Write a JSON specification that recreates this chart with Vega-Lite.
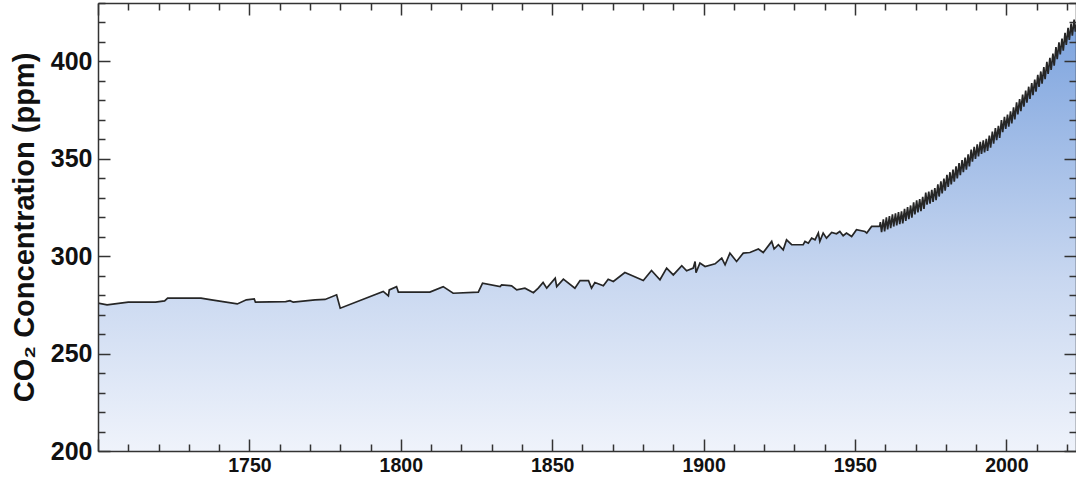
{
  "$schema": "https://vega.github.io/schema/vega-lite/v6.json",
  "width": 978,
  "height": 448,
  "autosize": {"type": "none"},
  "padding": {"left": 98, "top": 3, "right": 0, "bottom": 27},
  "background": "white",
  "config": {"view": {"stroke": null}, "font": "Liberation Sans"},
  "data": {"values": [
    {"year":1700,"ppm":275.9},{"year":1703,"ppm":275.0},{"year":1710,"ppm":276.4},{"year":1719,"ppm":276.4},{"year":1722,"ppm":277.1},{"year":1723,"ppm":278.5},{"year":1734,"ppm":278.5},{"year":1737.5,"ppm":277.6},{"year":1746,"ppm":275.5},{"year":1749,"ppm":277.6},{"year":1751.6,"ppm":278.1},{"year":1752,"ppm":276.4},{"year":1762,"ppm":276.7},{"year":1763.4,"ppm":277.2},{"year":1764.5,"ppm":276.4},{"year":1771.7,"ppm":277.6},{"year":1775,"ppm":277.8},{"year":1778.8,"ppm":280.2},{"year":1780,"ppm":273.3},{"year":1794.2,"ppm":281.9},{"year":1795.9,"ppm":279.6},{"year":1796.2,"ppm":282.7},{"year":1798.6,"ppm":284.4},{"year":1799.2,"ppm":281.6},{"year":1809.6,"ppm":281.6},{"year":1814,"ppm":284.4},{"year":1817.3,"ppm":281.0},{"year":1825.6,"ppm":281.6},{"year":1827,"ppm":286.2},{"year":1832.8,"ppm":284.4},{"year":1833.3,"ppm":285.3},{"year":1836.6,"ppm":284.8},{"year":1838.3,"ppm":282.7},{"year":1841,"ppm":283.6},{"year":1843.8,"ppm":281.3},{"year":1845.4,"ppm":283.6},{"year":1847,"ppm":286.5},{"year":1848.2,"ppm":283.6},{"year":1851,"ppm":288.7},{"year":1851.5,"ppm":284.4},{"year":1853.7,"ppm":288.2},{"year":1857.5,"ppm":283.6},{"year":1859.2,"ppm":287.5},{"year":1862,"ppm":287.5},{"year":1863,"ppm":283.6},{"year":1864.1,"ppm":286.5},{"year":1866.9,"ppm":284.8},{"year":1868.5,"ppm":288.2},{"year":1870.2,"ppm":287.0},{"year":1874,"ppm":291.6},{"year":1880.1,"ppm":287.5},{"year":1882.8,"ppm":292.7},{"year":1885.6,"ppm":287.9},{"year":1887.8,"ppm":293.9},{"year":1890,"ppm":290.4},{"year":1892.8,"ppm":295.1},{"year":1894.4,"ppm":292.5},{"year":1896.6,"ppm":293.9},{"year":1897.2,"ppm":297.3},{"year":1897.5,"ppm":291.6},{"year":1898.8,"ppm":296.5},{"year":1900.5,"ppm":294.7},{"year":1903.8,"ppm":296.1},{"year":1906,"ppm":299.0},{"year":1907.1,"ppm":295.6},{"year":1908.7,"ppm":301.6},{"year":1910.9,"ppm":297.3},{"year":1913.1,"ppm":301.6},{"year":1915.3,"ppm":301.9},{"year":1918.1,"ppm":303.7},{"year":1919.7,"ppm":301.9},{"year":1922.5,"ppm":307.6},{"year":1923.3,"ppm":303.7},{"year":1924.7,"ppm":305.9},{"year":1926.3,"ppm":303.3},{"year":1927.4,"ppm":308.4},{"year":1929.1,"ppm":305.9},{"year":1932.9,"ppm":305.9},{"year":1933.5,"ppm":307.6},{"year":1934.6,"ppm":306.7},{"year":1935.7,"ppm":309.3},{"year":1936.8,"ppm":308.4},{"year":1937.9,"ppm":311.9},{"year":1938.4,"ppm":307.6},{"year":1939.5,"ppm":311.9},{"year":1940.6,"ppm":309.3},{"year":1942.3,"ppm":312.2},{"year":1943.9,"ppm":311.5},{"year":1945,"ppm":312.7},{"year":1946.1,"ppm":310.5},{"year":1947.2,"ppm":311.9},{"year":1948.9,"ppm":310.1},{"year":1950.5,"ppm":313.6},{"year":1953.3,"ppm":312.7},{"year":1953.9,"ppm":311.9},{"year":1955.5,"ppm":315.3},{"year":1958.0,"ppm":315.3},
    {"year":1958.2,"ppm":315.7},{"year":1958.38,"ppm":317.5},{"year":1958.79,"ppm":312.4},
    {"year":1959.38,"ppm":318.98},{"year":1959.79,"ppm":312.78},
    {"year":1960.38,"ppm":319.91},{"year":1960.79,"ppm":313.71},
    {"year":1961.38,"ppm":320.64},{"year":1961.79,"ppm":314.44},
    {"year":1962.38,"ppm":321.45},{"year":1962.79,"ppm":315.25},
    {"year":1963.38,"ppm":321.99},{"year":1963.79,"ppm":315.79},
    {"year":1964.38,"ppm":322.62},{"year":1964.79,"ppm":316.42},
    {"year":1965.38,"ppm":323.04},{"year":1965.79,"ppm":316.84},
    {"year":1966.38,"ppm":324.37},{"year":1966.79,"ppm":318.17},
    {"year":1967.38,"ppm":325.18},{"year":1967.79,"ppm":318.98},
    {"year":1968.38,"ppm":326.05},{"year":1968.79,"ppm":319.85},
    {"year":1969.38,"ppm":327.62},{"year":1969.79,"ppm":321.42},
    {"year":1970.38,"ppm":328.68},{"year":1970.79,"ppm":322.48},
    {"year":1971.38,"ppm":329.32},{"year":1971.79,"ppm":323.12},
    {"year":1972.38,"ppm":330.46},{"year":1972.79,"ppm":324.26},
    {"year":1973.38,"ppm":332.68},{"year":1973.79,"ppm":326.48},
    {"year":1974.38,"ppm":333.19},{"year":1974.79,"ppm":326.99},
    {"year":1975.38,"ppm":334.13},{"year":1975.79,"ppm":327.93},
    {"year":1976.38,"ppm":335.03},{"year":1976.79,"ppm":328.83},
    {"year":1977.38,"ppm":336.84},{"year":1977.79,"ppm":330.64},
    {"year":1978.38,"ppm":338.41},{"year":1978.79,"ppm":332.21},
    {"year":1979.38,"ppm":339.84},{"year":1979.79,"ppm":333.64},
    {"year":1980.38,"ppm":341.76},{"year":1980.79,"ppm":335.56},
    {"year":1981.38,"ppm":343.12},{"year":1981.79,"ppm":336.92},
    {"year":1982.38,"ppm":344.48},{"year":1982.79,"ppm":338.28},
    {"year":1983.38,"ppm":346.15},{"year":1983.79,"ppm":339.95},
    {"year":1984.38,"ppm":347.87},{"year":1984.79,"ppm":341.67},
    {"year":1985.38,"ppm":349.35},{"year":1985.79,"ppm":343.15},
    {"year":1986.38,"ppm":350.61},{"year":1986.79,"ppm":344.41},
    {"year":1987.38,"ppm":352.31},{"year":1987.79,"ppm":346.11},
    {"year":1988.38,"ppm":354.69},{"year":1988.79,"ppm":348.49},
    {"year":1989.38,"ppm":356.20},{"year":1989.79,"ppm":350.00},
    {"year":1990.38,"ppm":357.45},{"year":1990.79,"ppm":351.25},
    {"year":1991.38,"ppm":358.70},{"year":1991.79,"ppm":352.50},
    {"year":1992.38,"ppm":359.54},{"year":1992.79,"ppm":353.34},
    {"year":1993.38,"ppm":360.21},{"year":1993.79,"ppm":354.01},
    {"year":1994.38,"ppm":361.96},{"year":1994.79,"ppm":355.76},
    {"year":1995.38,"ppm":363.97},{"year":1995.79,"ppm":357.77},
    {"year":1996.38,"ppm":365.74},{"year":1996.79,"ppm":359.54},
    {"year":1997.38,"ppm":366.88},{"year":1997.79,"ppm":360.68},
    {"year":1998.38,"ppm":369.84},{"year":1998.79,"ppm":363.64},
    {"year":1999.38,"ppm":371.54},{"year":1999.79,"ppm":365.34},
    {"year":2000.38,"ppm":372.71},{"year":2000.79,"ppm":366.51},
    {"year":2001.38,"ppm":374.32},{"year":2001.79,"ppm":368.12},
    {"year":2002.38,"ppm":376.45},{"year":2002.79,"ppm":370.25},
    {"year":2003.38,"ppm":378.98},{"year":2003.79,"ppm":372.78},
    {"year":2004.38,"ppm":380.70},{"year":2004.79,"ppm":374.50},
    {"year":2005.38,"ppm":382.98},{"year":2005.79,"ppm":376.78},
    {"year":2006.38,"ppm":385.09},{"year":2006.79,"ppm":378.89},
    {"year":2007.38,"ppm":387.02},{"year":2007.79,"ppm":380.82},
    {"year":2008.38,"ppm":388.83},{"year":2008.79,"ppm":382.63},
    {"year":2009.38,"ppm":390.64},{"year":2009.79,"ppm":384.44},
    {"year":2010.38,"ppm":393.10},{"year":2010.79,"ppm":386.90},
    {"year":2011.38,"ppm":394.85},{"year":2011.79,"ppm":388.65},
    {"year":2012.38,"ppm":397.06},{"year":2012.79,"ppm":390.86},
    {"year":2013.38,"ppm":399.74},{"year":2013.79,"ppm":393.54},
    {"year":2014.38,"ppm":401.81},{"year":2014.79,"ppm":395.61},
    {"year":2015.38,"ppm":404.01},{"year":2015.79,"ppm":397.81},
    {"year":2016.38,"ppm":407.41},{"year":2016.79,"ppm":401.21},
    {"year":2017.38,"ppm":409.76},{"year":2017.79,"ppm":403.56},
    {"year":2018.38,"ppm":411.72},{"year":2018.79,"ppm":405.52},
    {"year":2019.38,"ppm":414.65},{"year":2019.79,"ppm":408.45},
    {"year":2020.38,"ppm":417.21},{"year":2020.79,"ppm":411.01},
    {"year":2021.38,"ppm":419.41},{"year":2021.79,"ppm":413.21},
    {"year":2022.38,"ppm":421.53},{"year":2022.79,"ppm":415.33},
    {"year":2023.0,"ppm":419.0}
  ]},
  "layer": [
    {
      "mark": {
        "type": "area",
        "clip": true,
        "color": {
          "gradient": "linear",
          "x1": 0, "y1": 1, "x2": 0, "y2": 0,
          "stops": [
            {"offset": 0, "color": "#eff3fb"},
            {"offset": 0.4, "color": "#c8d7f0"},
            {"offset": 1, "color": "#7ca3de"}
          ]
        }
      },
      "encoding": {
        "x": {
          "field": "year", "type": "quantitative",
          "scale": {"domain": [1700, 2023], "nice": false, "zero": false},
          "axis": {
            "orient": "bottom", "zindex": 1,
            "values": [1700,1710,1720,1730,1740,1750,1760,1770,1780,1790,1800,1810,1820,1830,1840,1850,1860,1870,1880,1890,1900,1910,1920,1930,1940,1950,1960,1970,1980,1990,2000,2010,2020],
            "format": "d",
            "title": null,
            "grid": false,
            "domainColor": "#333333", "domainWidth": 1.5,
            "tickColor": "#333333", "tickWidth": 1.5,
            "tickSize": {"condition": {"test": "datum.value % 50 === 0", "value": -12}, "value": -7},
            "labelExpr": "datum.value % 50 === 0 && datum.value > 1700 ? datum.label : ''",
            "labelFont": "Liberation Sans", "labelFontSize": 19.5, "labelFontWeight": "bold", "labelColor": "#111111",
            "labelPadding": 17, "labelFlush": false, "labelOverlap": false, "labelBound": false
          }
        },
        "y": {
          "field": "ppm", "type": "quantitative",
          "scale": {"domain": [200, 430], "nice": false, "zero": false},
          "axis": {
            "orient": "left", "zindex": 1,
            "values": [200,210,220,230,240,250,260,270,280,290,300,310,320,330,340,350,360,370,380,390,400,410,420,430],
            "format": "d",
            "title": "CO₂ Concentration (ppm)",
            "titleFont": "Liberation Sans", "titleFontSize": 29, "titleFontWeight": "bold", "titleColor": "#111111",
            "titleAngle": -90, "titleAlign": "center", "titleBaseline": "alphabetic",
            "titleX": -65, "titleY": 224,
            "grid": false,
            "domainColor": "#333333", "domainWidth": 1.5,
            "tickColor": "#333333", "tickWidth": 1.5,
            "tickSize": {"condition": {"test": "datum.value % 50 === 0", "value": -12}, "value": -7},
            "labelExpr": "datum.value % 50 === 0 ? datum.label : ''",
            "labelFont": "Liberation Sans", "labelFontSize": 25, "labelFontWeight": "bold", "labelColor": "#111111",
            "labelPadding": 18, "labelFlush": false, "labelOverlap": false, "labelBound": false
          }
        },
        "y2": {"datum": 200}
      }
    },
    {
      "mark": {"type": "line", "clip": true, "color": "#262626", "strokeWidth": 1.7, "strokeJoin": "miter"},
      "encoding": {
        "x": {
          "field": "year", "type": "quantitative",
          "scale": {"domain": [1700, 2023], "nice": false, "zero": false},
          "axis": {
            "orient": "top", "zindex": 1,
            "values": [1700,1710,1720,1730,1740,1750,1760,1770,1780,1790,1800,1810,1820,1830,1840,1850,1860,1870,1880,1890,1900,1910,1920,1930,1940,1950,1960,1970,1980,1990,2000,2010,2020],
            "title": null, "labels": false, "grid": false,
            "domainColor": "#333333", "domainWidth": 1.5,
            "tickColor": "#333333", "tickWidth": 1.5,
            "tickSize": {"condition": {"test": "datum.value % 50 === 0", "value": -12}, "value": -7}
          }
        },
        "y": {
          "field": "ppm", "type": "quantitative",
          "scale": {"domain": [200, 430], "nice": false, "zero": false},
          "axis": {
            "orient": "right", "zindex": 1,
            "values": [200,210,220,230,240,250,260,270,280,290,300,310,320,330,340,350,360,370,380,390,400,410,420,430],
            "title": null, "labels": false, "grid": false,
            "domainColor": "#333333", "domainWidth": 1.5,
            "tickColor": "#333333", "tickWidth": 1.5,
            "tickSize": {"condition": {"test": "datum.value % 50 === 0", "value": -12}, "value": -7}
          }
        }
      }
    }
  ]
}
